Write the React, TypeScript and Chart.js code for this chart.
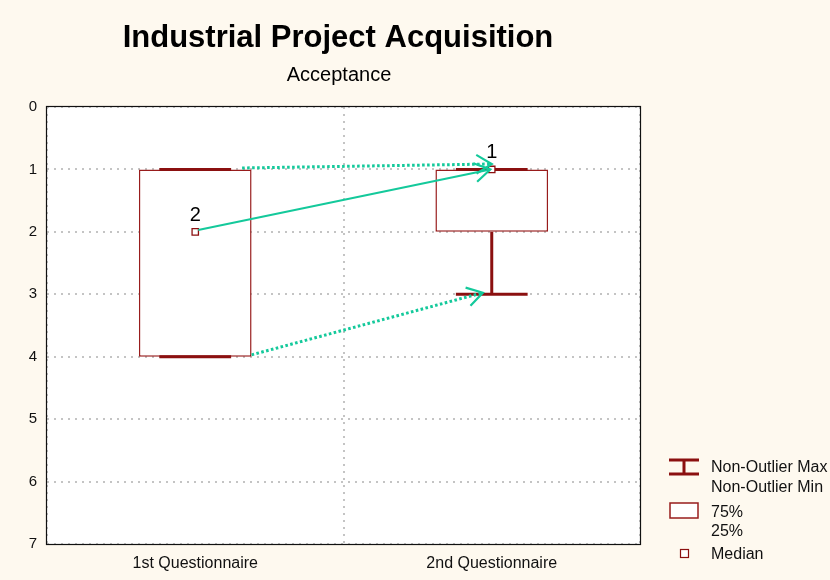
import React, { useEffect, useRef } from "react";
import { Chart, registerables } from "chart.js";

Chart.register(...registerables);

const TITLE = "Industrial Project Acquisition";
const SUBTITLE = "Acceptance";
const categories = ["1st Questionnaire", "2nd Questionnaire"];
const q1 = [1, 1];
const q3 = [4, 2];
const medians = [2, 1];
const whiskerLow = [1, 1];
const whiskerHigh = [4, 3];
const medianLabels = ["2", "1"];
const yMin = 0;
const yMax = 7;
// arrows: [fromCategory, fromValue, toCategory, toValue, dotted]
const arrowFromCat = [0.01, 0.158, 0.19];
const arrowFromVal = [1.97, 0.977, 3.97];
const arrowToCat = [0.995, 1.0, 0.97];
const arrowToVal = [1.0, 0.913, 2.975];
const arrowDotted = [false, true, true];
const legendLabels = ["Non-Outlier Max", "Non-Outlier Min", "75%", "25%", "Median"];

const DARK_RED = "#8B1010";
const BOX_RED = "#981C1C";
const GREEN = "#14C99B";
const BG = "#FEF9EF";
const FONT = "'Liberation Sans', Arial, sans-serif";

export default function App() {
  const ref = useRef<HTMLCanvasElement | null>(null);

  useEffect(() => {
    const canvas = ref.current;
    if (!canvas) return;

    const catX = (chart: any, c: number) => {
      const xs = chart.scales.x;
      const i = Math.floor(c + 0.5);
      const base = xs.getPixelForValue(Math.max(0, Math.min(categories.length - 1, i)));
      const w = chart.chartArea.width / categories.length;
      return base + (c - i) * w;
    };

    const drawArrow = (ctx: CanvasRenderingContext2D, x1: number, y1: number, x2: number, y2: number, dotted: boolean) => {
      ctx.save();
      ctx.strokeStyle = GREEN;
      ctx.lineWidth = dotted ? 3 : 2;
      ctx.setLineDash(dotted ? [2.6, 2.4] : []);
      ctx.beginPath();
      ctx.moveTo(x1, y1);
      ctx.lineTo(x2, y2);
      ctx.stroke();
      ctx.setLineDash([]);
      ctx.lineWidth = 2.2;
      const ang = Math.atan2(y2 - y1, x2 - x1);
      const len = 18;
      const spread = 0.55;
      ctx.beginPath();
      ctx.moveTo(x2 - len * Math.cos(ang - spread), y2 - len * Math.sin(ang - spread));
      ctx.lineTo(x2, y2);
      ctx.lineTo(x2 - len * Math.cos(ang + spread), y2 - len * Math.sin(ang + spread));
      ctx.stroke();
      ctx.restore();
    };

    const deco = {
      id: "deco",
      beforeDraw(chart: any) {
        const { ctx, chartArea: a } = chart;
        ctx.save();
        ctx.fillStyle = BG;
        ctx.fillRect(0, 0, chart.width, chart.height);
        ctx.fillStyle = "#ffffff";
        ctx.fillRect(a.left, a.top, a.right - a.left, a.bottom - a.top);
        ctx.fillStyle = "#000";
        ctx.textAlign = "center";
        ctx.textBaseline = "alphabetic";
        ctx.font = `bold 31px ${FONT}`;
        ctx.fillText(TITLE, 338, 47);
        ctx.font = `20px ${FONT}`;
        ctx.fillText(SUBTITLE, 339, 81);
        ctx.restore();
      },
      afterDatasetDraw(chart: any, args: any) {
        if (args.index !== 0) return;
        const { ctx } = chart;
        const ys = chart.scales.y;
        const w = chart.chartArea.width / categories.length;
        ctx.save();
        ctx.strokeStyle = DARK_RED;
        ctx.lineWidth = 3;
        categories.forEach((_, i) => {
          const cx = chart.scales.x.getPixelForValue(i);
          const hw = 0.121 * w;
          [whiskerLow[i], whiskerHigh[i]].forEach((v) => {
            const y = ys.getPixelForValue(v);
            ctx.beginPath();
            ctx.moveTo(cx - hw, y);
            ctx.lineTo(cx + hw, y);
            ctx.stroke();
          });
          const lo = Math.min(q1[i], q3[i]);
          const hi = Math.max(q1[i], q3[i]);
          if (whiskerHigh[i] > hi) {
            ctx.beginPath();
            ctx.moveTo(cx, ys.getPixelForValue(hi));
            ctx.lineTo(cx, ys.getPixelForValue(whiskerHigh[i]));
            ctx.stroke();
          }
          if (whiskerLow[i] < lo) {
            ctx.beginPath();
            ctx.moveTo(cx, ys.getPixelForValue(lo));
            ctx.lineTo(cx, ys.getPixelForValue(whiskerLow[i]));
            ctx.stroke();
          }
        });
        ctx.restore();
      },
      afterDatasetsDraw(chart: any) {
        const { ctx, chartArea: a } = chart;
        const ys = chart.scales.y;
        for (let k = 0; k < arrowFromCat.length; k++) {
          drawArrow(
            ctx,
            catX(chart, arrowFromCat[k]),
            ys.getPixelForValue(arrowFromVal[k]),
            catX(chart, arrowToCat[k]),
            ys.getPixelForValue(arrowToVal[k]),
            arrowDotted[k]
          );
        }
        ctx.save();
        ctx.fillStyle = "#000";
        ctx.font = `20px ${FONT}`;
        ctx.textAlign = "center";
        ctx.textBaseline = "alphabetic";
        medians.forEach((m, i) => {
          const x = chart.scales.x.getPixelForValue(i);
          const y = ys.getPixelForValue(m);
          ctx.fillText(medianLabels[i], x, y - 11);
        });
        // frame
        ctx.strokeStyle = "#111";
        ctx.lineWidth = 1.2;
        ctx.strokeRect(a.left - 0.5, a.top - 0.5, a.right - a.left + 1, a.bottom - a.top + 1);
        // legend
        ctx.strokeStyle = DARK_RED;
        ctx.lineWidth = 3;
        ctx.beginPath();
        ctx.moveTo(669, 460);
        ctx.lineTo(699, 460);
        ctx.moveTo(669, 474);
        ctx.lineTo(699, 474);
        ctx.moveTo(684, 460);
        ctx.lineTo(684, 474);
        ctx.stroke();
        ctx.lineWidth = 1.5;
        ctx.strokeStyle = BOX_RED;
        ctx.fillStyle = "#fff";
        ctx.fillRect(670, 503, 28, 15);
        ctx.strokeRect(670, 503, 28, 15);
        ctx.lineWidth = 1.2;
        ctx.strokeStyle = DARK_RED;
        ctx.fillRect(680.5, 549.5, 8, 8);
        ctx.strokeRect(680.5, 549.5, 8, 8);
        ctx.fillStyle = "#111";
        ctx.font = `16px ${FONT}`;
        ctx.textAlign = "left";
        ctx.textBaseline = "middle";
        const ly = [468, 488, 513, 532, 555];
        legendLabels.forEach((t, i) => ctx.fillText(t, 711, ly[i]));
        ctx.restore();
      },
    };

    const chart = new Chart(canvas, {
      type: "bar",
      data: {
        labels: categories,
        datasets: [
          {
            type: "bar",
            data: categories.map((_, i) => [q1[i], q3[i]]) as any,
            backgroundColor: "#ffffff",
            borderColor: BOX_RED,
            borderWidth: 1.5,
            borderSkipped: false,
            barPercentage: 0.38,
            categoryPercentage: 1,
            order: 2,
          },
          {
            type: "line",
            data: medians,
            showLine: false,
            pointStyle: "rect",
            pointRadius: 4.5,
            pointBackgroundColor: "#ffffff",
            pointBorderColor: DARK_RED,
            pointBorderWidth: 1.3,
            order: 1,
          } as any,
        ],
      },
      options: {
        responsive: false,
        animation: false,
        events: [],
        layout: { padding: { left: 0, top: 107, right: 190, bottom: 0 } },
        plugins: { legend: { display: false }, tooltip: { enabled: false }, title: { display: false } },
        scales: {
          x: {
            type: "category",
            offset: true,
            grid: { offset: true, color: "#c4c4c4", lineWidth: 2, drawTicks: false },
            border: { display: false, dash: [2, 5] },
            ticks: { color: "#111", font: { family: FONT, size: 16 }, padding: 10 },
            afterFit: (s: any) => {
              s.height = 36;
            },
          },
          y: {
            type: "linear",
            reverse: true,
            min: yMin,
            max: yMax,
            grid: { color: "#c4c4c4", lineWidth: 2, drawTicks: false },
            border: { display: false, dash: [2, 5] },
            ticks: { stepSize: 1, color: "#111", font: { family: FONT, size: 15 }, padding: 10 },
            afterFit: (s: any) => {
              s.width = 47;
            },
          },
        },
      },
      plugins: [deco],
    });

    return () => chart.destroy();
  }, []);

  return (
    <div style={{ position: "fixed", left: 0, top: 0, width: 830, height: 580 }}>
      <canvas ref={ref} width={830} height={580} style={{ width: 830, height: 580, display: "block" }} />
    </div>
  );
}
